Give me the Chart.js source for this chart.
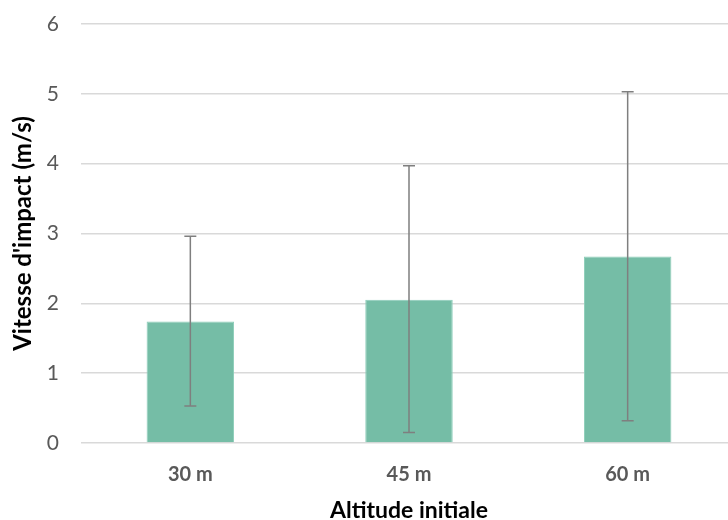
<!DOCTYPE html>
<html>
<head>
<meta charset="utf-8">
<script src="https://cdn.jsdelivr.net/npm/chart.js@4/dist/chart.umd.min.js"></script>
<style>
html,body{margin:0;padding:0;background:#fff;overflow:hidden;}
#wrap{width:737px;height:520px;position:relative;}
</style>
</head>
<body>
<div id="wrap"><canvas id="c"></canvas></div>
<script>
const categories = ['30 m', '45 m', '60 m'];
const impactSpeed = [1.74, 2.05, 2.67];
const errLow = [0.53, 0.15, 0.32];
const errHigh = [2.96, 3.97, 5.03];
const yTicks = [0, 1, 2, 3, 4, 5, 6];

const errorBarPlugin = {
  id: 'errorBars',
  afterDatasetsDraw(chart) {
    const ctx = chart.ctx;
    const meta = chart.getDatasetMeta(0);
    const y = chart.scales.y;
    ctx.save();
    ctx.strokeStyle = '#7f7f7f';
    ctx.lineWidth = 1.5;
    meta.data.forEach((bar, i) => {
      const x = bar.x;
      const yt = y.getPixelForValue(errHigh[i]);
      const yb = y.getPixelForValue(errLow[i]);
      ctx.beginPath();
      ctx.moveTo(x, yt); ctx.lineTo(x, yb);
      ctx.moveTo(x - 6, yt); ctx.lineTo(x + 6, yt);
      ctx.moveTo(x - 6, yb); ctx.lineTo(x + 6, yb);
      ctx.stroke();
    });
    ctx.restore();
  }
};

new Chart(document.getElementById('c'), {
  type: 'bar',
  data: {
    labels: categories,
    datasets: [{
      data: impactSpeed,
      backgroundColor: '#75bda6',
      borderColor: '#8ccdb9',
      borderWidth: 1,
      barPercentage: 0.4,
      categoryPercentage: 1.0
    }]
  },
  options: {
    responsive: true,
    maintainAspectRatio: false,
    animation: false,
    layout: { padding: { top: 24, right: 0, left: 0, bottom: 0 } },
    plugins: { legend: { display: false }, tooltip: { enabled: false } },
    scales: {
      x: {
        afterFit(scale) { scale.height = 77; scale.paddingLeft = 0; scale.paddingRight = 0; },
        grid: { display: false, drawTicks: false },
        border: { display: false },
        ticks: { color: '#595959', font: { family: 'Lato', size: 20, weight: 'bold' }, padding: 20 },
        title: { display: true, text: 'Altitude initiale', color: '#000', font: { family: 'Lato', size: 23, weight: 'bold' }, padding: { top: 0, bottom: -4 } }
      },
      y: {
        min: 0, max: 6,
        afterFit(scale) { scale.width = 81; scale.paddingTop = 0; scale.paddingBottom = 0; },
        afterBuildTicks(scale) { scale.ticks = yTicks.map(v => ({ value: v })); },
        grid: { color: '#d9d9d9', lineWidth: 1.5, drawTicks: false },
        border: { display: false },
        ticks: { color: '#595959', font: { family: 'Lato', size: 21 }, padding: 22 },
        title: { display: true, text: "Vitesse d'impact (m/s)", color: '#000', font: { family: 'Lato', size: 24, weight: 'bold' }, padding: { top: 9, bottom: 0 } }
      }
    }
  },
  plugins: [errorBarPlugin]
});
</script>
</body>
</html>
